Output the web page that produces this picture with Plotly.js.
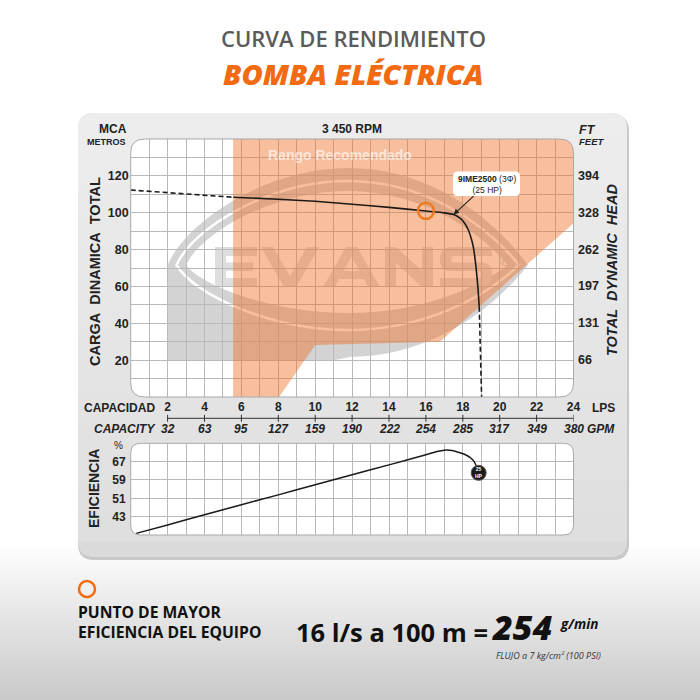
<!DOCTYPE html>
<html>
<head>
<meta charset="utf-8">
<script src="https://cdn.plot.ly/plotly-3.0.1.min.js"></script>
<style>html,body{margin:0;padding:0;background:#fff;}#chart{width:700px;height:700px;}</style>
</head>
<body>
<div id="chart"></div>
<script>
// ---------------- DATA ----------------
const lpsTicks = [2, 4, 6, 8, 10, 12, 14, 16, 18, 20, 22, 24];
const gpmLabels = ['32', '63', '95', '127', '159', '190', '222', '254', '285', '317', '349', '380'];
const metreTicks = [20, 40, 60, 80, 100, 120];
const feetLabels = ['66', '131', '197', '262', '328', '394'];
const effTicks = [43, 51, 59, 67];

// pump head curve (LPS, m)
const headStartX = [0, 5.56];
const headStartY = [112.3, 108.4];
const headX = [5.56, 8, 10, 12, 14, 16, 17, 17.5, 17.85, 18.1, 18.3, 18.45, 18.57, 18.67, 18.75, 18.83, 18.89];
const headY = [108.4, 107.3, 106.2, 104.6, 102.9, 100.9, 99.9, 99.0, 97.0, 94.3, 90.6, 86.3, 81.5, 74.5, 67.1, 58.0, 49.0];
const headEndX = [18.89, 19.02];
const headEndY = [49.0, 0];

// best efficiency point
const bepX = [16];
const bepY = [101];

// recommended range polygon (LPS, m)
const rangeX = [5.55, 5.55, 24, 24, 16.76, 10.0, 8.04, 5.55];
const rangeY = [0, 140, 140, 94.3, 30.0, 28.2, 0, 0];

// efficiency curve (LPS, %)
const effX = [0.3, 2, 4, 6, 8, 10, 12, 14, 16, 16.6, 17.0, 17.4, 17.85, 18.2, 18.45, 18.6, 18.75, 18.86];
const effY = [35.7, 39.4, 43.8, 48.2, 52.5, 56.9, 61.3, 65.6, 70.0, 71.4, 72.0, 71.9, 70.9, 69.8, 68.5, 67.2, 64.7, 62.1];
const motorX = [18.86];
const motorY = [62.1];

// ---------------- GEOMETRY / STYLE ----------------
const W = 700;
const X0 = 130.7, X1 = 573.5, Y0 = 139, Y1 = 397, E0 = 443.3, E1 = 535;
const FA = 'Liberation Sans, Arial, sans-serif';
const FT = 'Open Sans, sans-serif';
const ORANGE = '#F26A12';
const GRID = '#b9b9b9';
const OUT = '#a9a9a9';

function pt(x, y) { return (x / W).toFixed(5) + ',' + (1 - y / W).toFixed(5); }
function rrect(x0, y0, x1, y1, r) {
  return `M${pt(x0 + r, y0)} L${pt(x1 - r, y0)} Q${pt(x1, y0)} ${pt(x1, y0 + r)} L${pt(x1, y1 - r)} Q${pt(x1, y1)} ${pt(x1 - r, y1)} L${pt(x0 + r, y1)} Q${pt(x0, y1)} ${pt(x0, y1 - r)} L${pt(x0, y0 + r)} Q${pt(x0, y0)} ${pt(x0 + r, y0)} Z`;
}
function gray(v) { v = Math.round(v); return `rgb(${v},${v},${v})`; }
function cardLevel(y) { return 237 - 15 * Math.max(0, Math.min(1, (y - 113) / 444)); }

const shapes = [];
function pshape(path, fill, layer, line) {
  shapes.push({ type: 'path', xref: 'paper', yref: 'paper', path: path, fillcolor: fill, line: line || { width: 0 }, layer: layer || 'below' });
}

// page bottom gradient
for (let y = 548; y < 700; y += 6) {
  const t = (y - 548) / 152;
  pshape(`M${pt(0, y)} L${pt(W, y)} L${pt(W, y + 6.5)} L${pt(0, y + 6.5)} Z`, gray(252 - t * 52));
}
// card
const CX0 = 78, CX1 = 627, CY0 = 113, CY1 = 557, CR = 16;
pshape(rrect(CX0, CY0 + 2, CX1 + 2, CY1 + 3, CR), 'rgb(200,200,200)');
pshape(rrect(CX0, CY0, CX1, CY1, CR), gray(cardLevel(CY1) - 4));
pshape(rrect(CX0, CY0, CX1, CY0 + 2 * CR, CR), gray(cardLevel(CY0)));
for (let y = CY0 + CR; y < CY1 - CR; y += 6) {
  const y2 = Math.min(y + 6.5, CY1 - CR);
  pshape(`M${pt(CX0, y)} L${pt(CX1, y)} L${pt(CX1, y2)} L${pt(CX0, y2)} Z`, gray(cardLevel(y + 3)));
}
// white plot areas
pshape(rrect(X0, Y0, X1, Y1, 14), '#ffffff');
pshape(rrect(X0, E0, X1, E1, 10), '#ffffff');

// watermark (in data coords of main subplot)
function dx(x) { return (x - X0) / (X1 - X0) * 24; }
function dy(y) { return (Y1 - y) / (Y1 - Y0) * 140; }
function dpt(x, y) { return dx(x).toFixed(4) + ',' + dy(y).toFixed(4); }
function pxPath(s) { return s.replace(/(-?\d+\.?\d*),(-?\d+\.?\d*)/g, function (m, a, b) { return dpt(+a, +b); }); }
function lens(xl, xr, cy, yt, yb) {
  const h = (xr - xl) / 2, cx = xl + h;
  return `M${dpt(xl, cy)} C${dpt(xl + 0.1 * h, cy - 0.45 * (cy - yt))} ${dpt(cx - 0.45 * h, yt)} ${dpt(cx, yt)} ` +
    `C${dpt(cx + 0.45 * h, yt)} ${dpt(xr - 0.2 * h, cy - 0.5 * (cy - yt))} ${dpt(xr, cy)} ` +
    `C${dpt(xr - 0.2 * h, cy + 0.5 * (yb - cy))} ${dpt(cx + 0.45 * h, yb)} ${dpt(cx, yb)} ` +
    `C${dpt(cx - 0.45 * h, yb)} ${dpt(xl + 0.1 * h, cy + 0.45 * (yb - cy))} ${dpt(xl, cy)} Z`;
}
function dshape(path, fill, line, rule) {
  const s = { type: 'path', xref: 'x', yref: 'y', path: path, fillcolor: fill, line: line || { width: 0 }, layer: 'below' };
  if (rule) s.fillrule = rule;
  shapes.push(s);
}
const WM = '#d3d3d3';
dshape(lens(167.7, 528, 265, 168, 357), WM);
dshape(`M${dpt(167.7, 265)} L${dpt(167.7, 360)} L${dpt(335, 360)} L${dpt(350, 357)} L${dpt(350, 265)} Z`, WM);
dshape(lens(176.5, 519, 265, 181, 330), 'rgba(0,0,0,0)', { color: '#ffffff', width: 2.5 });
dshape(lens(186, 508, 265, 191, 313), '#ffffff');
// EVANS logo letters (decorative outlines, pixel terms)
const LET = '#dedede';
const letterPaths = [
  'M215,247 L257,247 L257,256 L226,256 L226,262.5 L253,262.5 L253,271 L226,271 L226,278 L257,278 L257,287 L215,287 Z',
  'M261,247 L273,247 L290,276 L307,247 L319,247 L296,287 L284,287 Z',
  'M323,287 L346,247 L357,247 L380,287 L368,287 L364,279 L339,279 L335,287 Z M343.5,271 L359.5,271 L351.5,256.5 Z',
  'M385,287 L385,247 L396,247 L422,271 L422,247 L433,247 L433,287 L422,287 L396,263 L396,287 Z',
  'M492,247 L452,247 Q440,247 440,258 L440,261 Q440,271 452,271 L478,271 Q481,271 481,274.5 Q481,278 478,278 L440,278 L440,287 L480,287 Q492,287 492,276 L492,273 Q492,262.5 480,262.5 L454,262.5 Q451,262.5 451,259.3 Q451,256 454,256 L492,256 Z'
];
letterPaths.forEach(function (p) { dshape(pxPath(p), LET, null, 'evenodd'); });
// registered mark (pixel terms)
const regPx = [505], regPy = [262];

// corner masks + outlines (above)
function corners(x0, y0, x1, y1, r) {
  const m = [
    `M${pt(x0 - 1, y0 - 1)} L${pt(x0 + r, y0 - 1)} L${pt(x0 + r, y0)} Q${pt(x0, y0)} ${pt(x0, y0 + r)} L${pt(x0 - 1, y0 + r)} Z`,
    `M${pt(x1 + 1, y0 - 1)} L${pt(x1 - r, y0 - 1)} L${pt(x1 - r, y0)} Q${pt(x1, y0)} ${pt(x1, y0 + r)} L${pt(x1 + 1, y0 + r)} Z`,
    `M${pt(x0 - 1, y1 + 1)} L${pt(x0 + r, y1 + 1)} L${pt(x0 + r, y1)} Q${pt(x0, y1)} ${pt(x0, y1 - r)} L${pt(x0 - 1, y1 - r)} Z`,
    `M${pt(x1 + 1, y1 + 1)} L${pt(x1 - r, y1 + 1)} L${pt(x1 - r, y1)} Q${pt(x1, y1)} ${pt(x1, y1 - r)} L${pt(x1 + 1, y1 - r)} Z`
  ];
  pshape(m[0], gray(cardLevel(y0)), 'above');
  pshape(m[1], gray(cardLevel(y0)), 'above');
  pshape(m[2], gray(cardLevel(y1)), 'above');
  pshape(m[3], gray(cardLevel(y1)), 'above');
  pshape(rrect(x0, y0, x1, y1, r), 'rgba(0,0,0,0)', 'above', { color: OUT, width: 1 });
}
corners(X0, Y0, X1, Y1, 14);
corners(X0, E0, X1, E1, 10);

// label box
pshape(rrect(453, 171.5, 520, 196, 5), '#ffffff', 'above');

// capacity axis line with ticks
const capY = 1 - 418.3 / W;
shapes.push({ type: 'line', xref: 'x', yref: 'paper', x0: lpsTicks[0], x1: lpsTicks[lpsTicks.length - 1], y0: capY, y1: capY, line: { color: '#333', width: 1 } });
lpsTicks.forEach(function (v) {
  shapes.push({ type: 'line', xref: 'x', yref: 'paper', x0: v, x1: v, y0: capY - 3.5 / W, y1: capY + 3.5 / W, line: { color: '#333', width: 1 } });
});

// bottom orange circle
shapes.push({ type: 'circle', xref: 'paper', yref: 'paper', x0: 79 / W, x1: 95 / W, y0: 1 - 597 / W, y1: 1 - 581 / W, line: { color: ORANGE, width: 2.5 }, fillcolor: 'rgba(0,0,0,0)' });

// ---------------- ANNOTATIONS ----------------
const annotations = [];
function ann(text, x, y, o) {
  o = o || {};
  annotations.push({
    text: text, x: x / W, y: 1 - y / W, xref: 'paper', yref: 'paper', showarrow: false,
    xanchor: o.xa || 'center', yanchor: 'middle', textangle: o.ang || 0,
    font: { family: o.f || FA, size: o.s || 12, color: o.c || '#222', weight: o.w === undefined ? 700 : o.w, style: o.it ? 'italic' : 'normal' }
  });
}
ann('CURVA DE RENDIMIENTO', 353.5, 38, { f: FT, s: 22, w: 600, c: '#5b5b5b' });
ann('BOMBA ELÉCTRICA', 353, 73, { f: FT, s: 29, w: 800, c: ORANGE, it: true });

ann('MCA', 113, 129, { s: 12 });
ann('METROS', 106, 141.5, { s: 9 });
ann('3 450 RPM', 351.5, 129, { s: 12 });
ann('FT', 577, 129.5, { s: 12.5, it: true, xa: 'left' });
ann('FEET', 577, 141.5, { s: 9.5, it: true, xa: 'left' });
ann('CARGA\u00a0\u00a0DINAMICA\u00a0\u00a0TOTAL', 95, 271, { s: 14.5, ang: -90 });
ann('TOTAL\u00a0\u00a0DYNAMIC\u00a0\u00a0HEAD', 612, 270, { s: 14.5, ang: -90, it: true });
ann('CAPACIDAD', 157, 407.7, { s: 12, xa: 'right' });
ann('LPS', 590, 407.7, { s: 12, xa: 'left' });
ann('CAPACITY', 157, 429.3, { s: 12, xa: 'right', it: true });
ann('GPM', 585, 429.3, { s: 12, xa: 'left', it: true });
ann('%', 118.5, 445, { s: 10, w: 400 });
ann('EFICIENCIA', 94, 489, { s: 14, ang: -90 });
ann('Rango Recomendado', 340, 154.5, { s: 14, c: 'rgba(255,255,255,0.62)' });

// feet labels on right (positioned by main y axis)
feetLabels.forEach(function (t, i) {
  annotations.push({ text: t, xref: 'paper', yref: 'y', x: 576 / W, y: metreTicks[i], xanchor: 'left', yanchor: 'middle', showarrow: false,
    font: { family: FA, size: 12.5, color: '#222', weight: 700 } });
});
// GPM labels
gpmLabels.forEach(function (t, i) {
  annotations.push({ text: t, xref: 'x', yref: 'paper', x: lpsTicks[i], y: 1 - 429.3 / W, xanchor: 'center', yanchor: 'middle', showarrow: false,
    font: { family: FA, size: 12, color: '#222', weight: 700, style: 'italic' } });
});
// model label with arrow to curve
annotations.push({
  text: '<b>9IME2500</b> (3Φ)<br>(25 HP)', xref: 'x', yref: 'y', x: headX[7], y: headY[7], ax: 33, ay: -30.5,
  showarrow: true, arrowhead: 2, arrowsize: 1, arrowwidth: 1.1, arrowcolor: '#222', standoff: 0,
  font: { family: FA, size: 8.5, color: '#222' }, align: 'center'
});
// motor marker text
annotations.push({ text: '25<br>HP', xref: 'x2', yref: 'y2', x: motorX[0], y: motorY[0], showarrow: false,
  font: { family: FA, size: 5, color: '#fff', weight: 700 } });

// bottom text
ann('PUNTO DE MAYOR', 76, 612, { f: FT, s: 15.7, xa: 'left', c: '#111' });
ann('EFICIENCIA DEL EQUIPO', 76, 632, { f: FT, s: 15.7, xa: 'left', c: '#111' });
ann('16 l/s a 100 m =', 294, 632, { f: FT, s: 25.5, xa: 'left', c: '#111' });
ann('254', 490, 627, { f: FT, s: 34, xa: 'left', c: '#111', it: true, w: 800 });
ann('g/min', 558, 624, { f: FT, s: 13.5, xa: 'left', c: '#111', it: true });
ann('FLUJO a 7 kg/cm² (100 PSI)', 494, 655, { f: FT, s: 9, xa: 'left', c: '#333', it: true, w: 400 });

// ---------------- AXES ----------------
const xGrid = [], xText = [];
for (let v = 0; v <= 24; v++) { xGrid.push(v); xText.push(lpsTicks.indexOf(v) >= 0 ? String(v) : ''); }
const yGrid = [], yText = [];
for (let v = 0; v <= 140; v += 10) { yGrid.push(v); yText.push(metreTicks.indexOf(v) >= 0 ? String(v) : ''); }

const layout = {
  width: 700, height: 700, margin: { l: 0, r: 0, t: 0, b: 0 },
  paper_bgcolor: '#ffffff', plot_bgcolor: 'rgba(0,0,0,0)', showlegend: false,
  xaxis: { domain: [X0 / W, X1 / W], range: [0, 24], anchor: 'y', tickmode: 'array', tickvals: xGrid, ticktext: xText,
    showgrid: true, gridcolor: GRID, gridwidth: 1, zeroline: false, showline: false, ticks: '', ticklabelstandoff: 1,
    tickfont: { family: FA, size: 12, color: '#222', weight: 700 }, fixedrange: true },
  yaxis: { domain: [1 - Y1 / W, 1 - Y0 / W], range: [0, 140], anchor: 'x', tickmode: 'array', tickvals: yGrid, ticktext: yText,
    showgrid: true, gridcolor: GRID, gridwidth: 1, zeroline: false, showline: false, ticks: '', ticklabelstandoff: 1,
    tickfont: { family: FA, size: 12.5, color: '#222', weight: 700 }, fixedrange: true },
  xaxis2: { domain: [X0 / W, X1 / W], range: [0, 24], anchor: 'y2', tickmode: 'array', tickvals: xGrid, showticklabels: false,
    showgrid: true, gridcolor: GRID, gridwidth: 1, zeroline: false, showline: false, ticks: '', fixedrange: true },
  yaxis2: { domain: [1 - E1 / W, 1 - E0 / W], range: [35, 75], anchor: 'x2', tickmode: 'array', tickvals: effTicks, ticktext: effTicks.map(String),
    showgrid: true, gridcolor: GRID, gridwidth: 1, zeroline: false, showline: false, ticks: '', ticklabelstandoff: 4,
    tickfont: { family: FA, size: 12, color: '#222', weight: 700 }, fixedrange: true },
  shapes: shapes, annotations: annotations
};

const LINE = '#1e1a17';
const data = [
  { type: 'scatter', x: regPx.map(dx), y: regPy.map(dy), mode: 'text', text: ['®'], textposition: 'middle center',
    textfont: { family: 'DejaVu Sans', size: 15, color: '#d0d0d0' }, hoverinfo: 'skip', xaxis: 'x', yaxis: 'y' },
  { type: 'scatter', x: rangeX, y: rangeY, mode: 'lines', fill: 'toself', fillcolor: 'rgba(240,112,40,0.45)', line: { width: 0 }, hoverinfo: 'skip', xaxis: 'x', yaxis: 'y' },
  { type: 'scatter', x: headStartX, y: headStartY, mode: 'lines', line: { color: LINE, width: 1.6, dash: '5px,3px' }, xaxis: 'x', yaxis: 'y' },
  { type: 'scatter', x: headX, y: headY, mode: 'lines', line: { color: LINE, width: 1.6, shape: 'spline', smoothing: 0.6 }, xaxis: 'x', yaxis: 'y' },
  { type: 'scatter', x: headEndX, y: headEndY, mode: 'lines', line: { color: LINE, width: 1.6, dash: '5px,3px' }, xaxis: 'x', yaxis: 'y' },
  { type: 'scatter', x: bepX, y: bepY, mode: 'markers', marker: { symbol: 'circle-open', size: 16, color: '#F07A1E', line: { width: 2.5 } }, xaxis: 'x', yaxis: 'y' },
  { type: 'scatter', x: effX, y: effY, mode: 'lines', line: { color: LINE, width: 1.5, shape: 'spline', smoothing: 0.6 }, xaxis: 'x2', yaxis: 'y2' },
  { type: 'scatter', x: motorX, y: motorY, mode: 'markers', marker: { symbol: 'circle', size: 15, color: '#1a1a1a', line: { color: '#555', width: 1 } }, xaxis: 'x2', yaxis: 'y2' }
];

Plotly.newPlot('chart', data, layout, { staticPlot: true, displayModeBar: false });
</script>
</body>
</html>
